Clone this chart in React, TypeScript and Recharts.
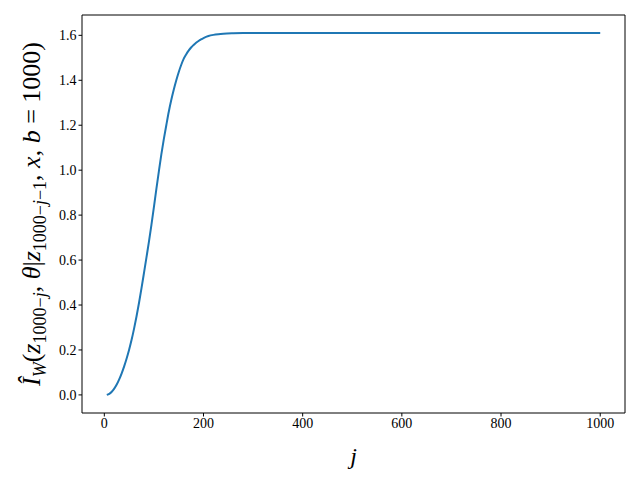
import { LineChart, Line, XAxis, YAxis, ReferenceLine } from 'recharts';

// j values and estimated Î_W readings
const steps = [
  5, 10, 15, 20, 25, 30, 35, 40, 45, 50, 55, 60, 65, 70, 75, 80, 85, 90, 95, 100,
  105, 110, 115, 120, 125, 130, 135, 140, 145, 150, 155, 160, 165, 170, 175, 180,
  185, 190, 195, 200, 210, 220, 230, 240, 260, 280, 300, 400, 500, 600, 700, 800, 900, 1000,
];
const info = [
  0.0, 0.005, 0.014, 0.028, 0.046, 0.069, 0.096, 0.127, 0.162, 0.201, 0.245, 0.295, 0.35, 0.41, 0.475, 0.543, 0.612, 0.682, 0.757, 0.836,
  0.917, 0.995, 1.07, 1.138, 1.2, 1.26, 1.312, 1.358, 1.399, 1.436, 1.468, 1.495, 1.515, 1.532, 1.546, 1.557,
  1.567, 1.575, 1.582, 1.588, 1.597, 1.602, 1.605, 1.607, 1.609, 1.61, 1.61, 1.61, 1.61, 1.61, 1.61, 1.61, 1.61, 1.61,
];

const xTicks = [0, 200, 400, 600, 800, 1000];
const yTicks = [0, 0.2, 0.4, 0.6, 0.8, 1.0, 1.2, 1.4, 1.6];

const data = steps.map((j, i) => ({ j, v: info[i] }));

const X_DOMAIN = [-45, 1050];
const Y_DOMAIN = [-0.0805, 1.6905];

const FONT = '"Liberation Serif", "DejaVu Serif", serif';
const tickStyle = { fontSize: 14, fill: '#000', fontFamily: FONT };

function YLabel() {
  const cx = 40;
  const cy = 214;
  const sub = 6;
  const small = 18;
  return (
    <text
      x={cx}
      y={cy}
      transform={`rotate(-90, ${cx}, ${cy})`}
      textAnchor="middle"
      fontFamily={FONT}
      fontSize={26}
      fill="#000"
    >
      <tspan fontStyle="italic">Î</tspan>
      <tspan fontStyle="italic" fontSize={small} dy={sub}>W</tspan>
      <tspan dy={-sub}>(</tspan>
      <tspan fontStyle="italic">z</tspan>
      <tspan fontSize={small} dy={sub}>1000−</tspan>
      <tspan fontSize={small} fontStyle="italic">j</tspan>
      <tspan dy={-sub}>, </tspan>
      <tspan fontStyle="italic">θ</tspan>
      <tspan>|</tspan>
      <tspan fontStyle="italic">z</tspan>
      <tspan fontSize={small} dy={sub}>1000−</tspan>
      <tspan fontSize={small} fontStyle="italic">j</tspan>
      <tspan fontSize={small}>−1</tspan>
      <tspan dy={-sub}>, </tspan>
      <tspan fontStyle="italic">x</tspan>
      <tspan>, </tspan>
      <tspan fontStyle="italic">b</tspan>
      <tspan> = 1000)</tspan>
    </text>
  );
}

export default function App() {
  return (
    <div style={{ position: 'absolute', left: 0, top: 0, width: 640, height: 480, background: '#fff' }}>
      <LineChart width={640} height={480} data={data} margin={{ top: 15, right: 15, bottom: 0, left: 0 }}>
        <XAxis
          dataKey="j"
          type="number"
          domain={X_DOMAIN}
          ticks={xTicks}
          allowDataOverflow
          tick={tickStyle}
          tickSize={3.5}
          tickLine={{ stroke: '#000' }}
          axisLine={{ stroke: '#000' }}
          height={67}
          label={{ value: 'j', position: 'insideBottom', offset: 16, style: { fontSize: 24, fontStyle: 'italic', fill: '#000', fontFamily: FONT } }}
        />
        <YAxis
          type="number"
          domain={Y_DOMAIN}
          ticks={yTicks}
          allowDataOverflow
          tickFormatter={(v: number) => v.toFixed(1)}
          tick={tickStyle}
          tickSize={3.5}
          tickLine={{ stroke: '#000' }}
          axisLine={{ stroke: '#000' }}
          width={82}
        />
        <ReferenceLine y={Y_DOMAIN[1]} stroke="#000" ifOverflow="visible" />
        <ReferenceLine x={X_DOMAIN[1]} stroke="#000" ifOverflow="visible" />
        <Line dataKey="v" type="monotone" stroke="#1f77b4" strokeWidth={2} dot={false} isAnimationActive={false} />
        <YLabel />
      </LineChart>
    </div>
  );
}
